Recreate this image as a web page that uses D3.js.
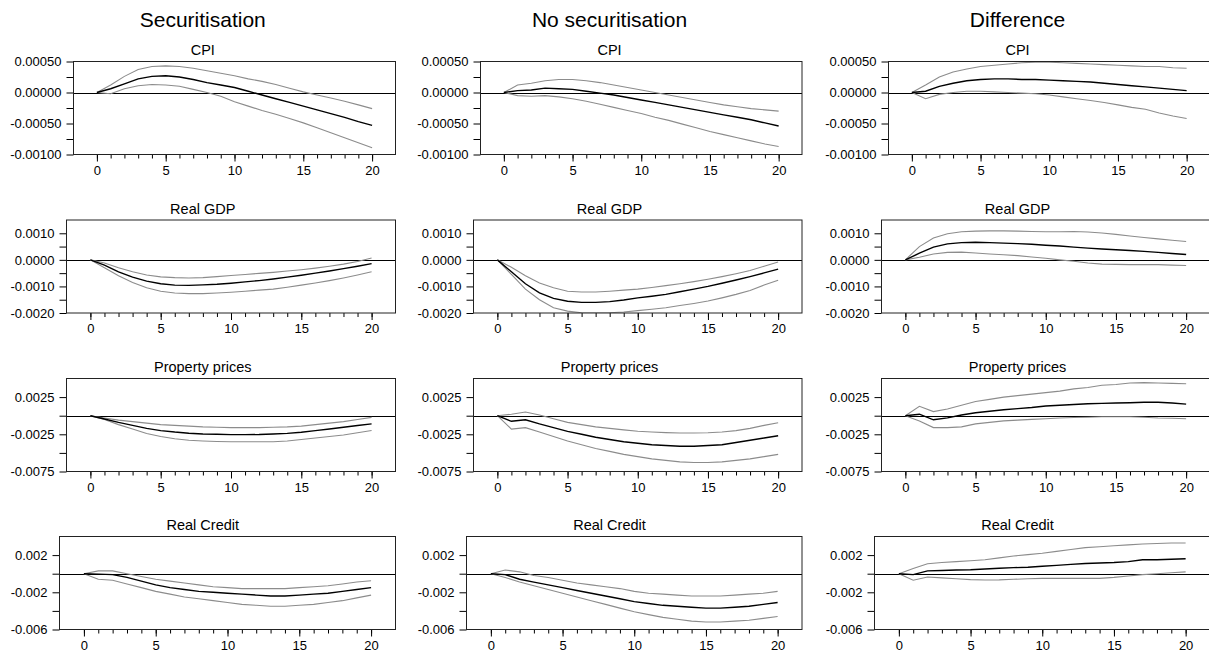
<!DOCTYPE html>
<html>
<head>
<meta charset="utf-8">
<script src="https://cdn.jsdelivr.net/npm/d3@7"></script>
<style>
  body { margin: 0; background: #fff; }
  text { font-family: Arial, "Liberation Sans", sans-serif; fill: #000; }
</style>
</head>
<body>
<script>
// horizon (quarters after the shock)
const steps = d3.range(0, 21);
const majorSteps = [0, 5, 10, 15, 20];

const columnTitles = ["Securitisation", "No securitisation", "Difference"];
const variableTitles = ["CPI", "Real GDP", "Property prices", "Real Credit"];

// CPI
const cpiSecMid = [0, 0.00006, 0.00014, 0.00022, 0.00026, 0.00027, 0.00025, 0.00021, 0.00016, 0.00012, 0.00008, 0.00002, -0.00004, -0.0001, -0.00016, -0.00022, -0.00028, -0.00034, -0.0004, -0.00047, -0.00053];
const cpiSecHi = [0, 0.00012, 0.00026, 0.00037, 0.00042, 0.00043, 0.00042, 0.00039, 0.00035, 0.00031, 0.00027, 0.00022, 0.00018, 0.00013, 0.00007, 0.00001, -0.00004, -0.00009, -0.00014, -0.0002, -0.00026];
const cpiSecLo = [0, -0.00002, 0.00006, 0.00011, 0.00013, 0.00012, 0.0001, 0.00005, 0, -0.00006, -0.00015, -0.00022, -0.00029, -0.00035, -0.00042, -0.00049, -0.00057, -0.00065, -0.00073, -0.00081, -0.00089];
const cpiNoMid = [0, 0.00003, 0.00004, 0.00007, 0.00006, 0.00005, 0.00002, -0.00001, -0.00004, -0.00008, -0.00012, -0.00016, -0.0002, -0.00024, -0.00028, -0.00032, -0.00036, -0.0004, -0.00044, -0.00049, -0.00054];
const cpiNoHi = [0, 0.00012, 0.00015, 0.00019, 0.00021, 0.00021, 0.00019, 0.00016, 0.00012, 0.00008, 0.00004, 0, -0.00004, -0.00008, -0.00012, -0.00016, -0.0002, -0.00023, -0.00026, -0.00028, -0.0003];
const cpiNoLo = [0, -0.00005, -0.00006, -0.00005, -0.00007, -0.0001, -0.00014, -0.00019, -0.00024, -0.00029, -0.00034, -0.0004, -0.00045, -0.00051, -0.00057, -0.00063, -0.00068, -0.00073, -0.00078, -0.00083, -0.00087];
const cpiDiffMid = [0, 0.00002, 0.0001, 0.00015, 0.00019, 0.00021, 0.00022, 0.00022, 0.00021, 0.00021, 0.0002, 0.00019, 0.00018, 0.00017, 0.00015, 0.00013, 0.00011, 0.00009, 0.00007, 0.00005, 0.00003];
const cpiDiffHi = [0, 0.00012, 0.00025, 0.00033, 0.00038, 0.00042, 0.00044, 0.00046, 0.00048, 0.00049, 0.00049, 0.00048, 0.00047, 0.00046, 0.00045, 0.00044, 0.00043, 0.00042, 0.00042, 0.0004, 0.00039];
const cpiDiffLo = [0, -0.0001, -0.00003, 0, 0.00002, 0.00002, 0.00001, 0, -0.00001, -0.00002, -0.00004, -0.00007, -0.0001, -0.00013, -0.00016, -0.0002, -0.00024, -0.00027, -0.00033, -0.00038, -0.00042];

// Real GDP
const gdpSecMid = [0, -0.0002, -0.00045, -0.00065, -0.0008, -0.0009, -0.00095, -0.00096, -0.00094, -0.00092, -0.00088, -0.00083, -0.00078, -0.00072, -0.00065, -0.00058, -0.0005, -0.00042, -0.00033, -0.00024, -0.00014];
const gdpSecHi = [0, -0.00012, -0.0003, -0.00045, -0.00057, -0.00064, -0.00067, -0.00068, -0.00067, -0.00063, -0.00059, -0.00055, -0.00051, -0.00047, -0.00042, -0.00037, -0.00031, -0.00024, -0.00016, -0.00006, 0.00007];
const gdpSecLo = [0, -0.0003, -0.0006, -0.00085, -0.00105, -0.00118, -0.00125, -0.00127, -0.00127, -0.00125, -0.00122, -0.00118, -0.00114, -0.0011, -0.00103, -0.00095, -0.00087, -0.00078, -0.00068, -0.00057, -0.00045];
const gdpNoMid = [0, -0.00045, -0.0009, -0.00124, -0.00145, -0.00156, -0.0016, -0.0016, -0.00157, -0.00151, -0.00143, -0.00137, -0.0013, -0.0012, -0.0011, -0.001, -0.00088, -0.00076, -0.00063, -0.00049, -0.00035];
const gdpNoHi = [0, -0.00028, -0.0006, -0.00087, -0.00105, -0.00118, -0.00121, -0.00121, -0.00118, -0.00114, -0.0011, -0.00104, -0.00097, -0.0009, -0.00082, -0.00073, -0.00063, -0.00052, -0.0004, -0.00024, -0.00008];
const gdpNoLo = [0, -0.00055, -0.0011, -0.0015, -0.0018, -0.00193, -0.00199, -0.002, -0.00199, -0.00196, -0.00191, -0.00186, -0.0018, -0.00172, -0.00164, -0.00155, -0.00143, -0.0013, -0.00115, -0.00095, -0.00077];
const gdpDiffMid = [0, 0.00025, 0.00048, 0.0006, 0.00065, 0.00066, 0.00065, 0.00063, 0.00061, 0.00059, 0.00055, 0.00052, 0.00048, 0.00044, 0.00041, 0.00038, 0.00035, 0.00032, 0.00028, 0.00024, 0.0002];
const gdpDiffHi = [0, 0.0005, 0.00082, 0.00098, 0.00106, 0.00108, 0.00109, 0.00109, 0.00108, 0.00107, 0.00106, 0.00106, 0.00107, 0.00105, 0.00101, 0.00096, 0.0009, 0.00084, 0.00079, 0.00074, 0.00069];
const gdpDiffLo = [0, 0.0001, 0.00022, 0.00028, 0.00029, 0.00026, 0.00022, 0.00019, 0.00016, 0.00011, 0.00006, 0, -0.00005, -0.00012, -0.00016, -0.00017, -0.00018, -0.00018, -0.00018, -0.0002, -0.00021];

// Property prices
const propSecMid = [0, -0.00045, -0.0009, -0.0013, -0.0017, -0.002, -0.0022, -0.00235, -0.00245, -0.0025, -0.00254, -0.00255, -0.00253, -0.00245, -0.00237, -0.00223, -0.002, -0.00178, -0.00155, -0.00132, -0.0011];
const propSecHi = [0, -0.0003, -0.0006, -0.0008, -0.001, -0.0012, -0.0013, -0.0014, -0.0015, -0.00155, -0.0016, -0.0016, -0.0016, -0.00155, -0.0015, -0.0014, -0.0012, -0.001, -0.0008, -0.0005, -0.00023];
const propSecLo = [0, -0.0005, -0.0012, -0.0018, -0.0024, -0.0028, -0.0031, -0.0033, -0.0034, -0.00347, -0.0035, -0.0035, -0.0035, -0.0035, -0.0034, -0.0032, -0.003, -0.0028, -0.0026, -0.0023, -0.002];
const propNoMid = [0, -0.00075, -0.00055, -0.0011, -0.0016, -0.0021, -0.0025, -0.0029, -0.0032, -0.0035, -0.0037, -0.0039, -0.004, -0.0041, -0.0041, -0.004, -0.0039, -0.0036, -0.0033, -0.003, -0.0027];
const propNoHi = [0, 0.0002, 0.0005, 0.0001, -0.0004, -0.0009, -0.0012, -0.0015, -0.0017, -0.0019, -0.0021, -0.0022, -0.00228, -0.00232, -0.00233, -0.0023, -0.0022, -0.002, -0.0017, -0.0013, -0.00095];
const propNoLo = [0, -0.0018, -0.0016, -0.0022, -0.0028, -0.0034, -0.0039, -0.0044, -0.0048, -0.0052, -0.0055, -0.0058, -0.006, -0.0062, -0.0063, -0.0063, -0.0062, -0.006, -0.0058, -0.0055, -0.0052];
const propDiffMid = [0, 0.0002, -0.00055, -0.0003, 0.0001, 0.0004, 0.0006, 0.0008, 0.00095, 0.0011, 0.0013, 0.0014, 0.0015, 0.0016, 0.00165, 0.0017, 0.00175, 0.0018, 0.0018, 0.0017, 0.00155];
const propDiffHi = [0, 0.00127, 0.00055, 0.0009, 0.0014, 0.0019, 0.0022, 0.0025, 0.0027, 0.0029, 0.0031, 0.0033, 0.0036, 0.0038, 0.0041, 0.0042, 0.0044, 0.00445, 0.0044, 0.00435, 0.0043];
const propDiffLo = [0, -0.0007, -0.0016, -0.0016, -0.0015, -0.0011, -0.0009, -0.0007, -0.0006, -0.0005, -0.0004, -0.0003, -0.00025, -0.0002, -0.00015, -0.00014, -0.00015, -0.0002, -0.0003, -0.00035, -0.0004];

// Real Credit
const credSecMid = [0, -0.00005, -0.0001, -0.0004, -0.0008, -0.0012, -0.0015, -0.0017, -0.0019, -0.002, -0.0021, -0.0022, -0.0023, -0.0024, -0.0024, -0.0023, -0.0022, -0.0021, -0.0019, -0.0017, -0.0015];
const credSecHi = [0, 0.0003, 0.0003, 0, -0.0003, -0.0006, -0.0008, -0.001, -0.0012, -0.0014, -0.0015, -0.0016, -0.0016, -0.0016, -0.0016, -0.0015, -0.0014, -0.0013, -0.0011, -0.0009, -0.00075];
const credSecLo = [0, -0.0006, -0.0007, -0.0011, -0.0015, -0.0019, -0.0022, -0.0025, -0.0027, -0.0029, -0.0031, -0.0033, -0.0034, -0.0035, -0.0035, -0.0034, -0.0033, -0.0031, -0.0029, -0.0026, -0.0023];
const credNoMid = [0, -0.0001, -0.0006, -0.0009, -0.0012, -0.0015, -0.0018, -0.0021, -0.0024, -0.0027, -0.003, -0.0032, -0.0034, -0.0035, -0.0036, -0.0037, -0.0037, -0.0036, -0.0035, -0.0033, -0.0031];
const credNoHi = [0, 0.0004, 0.0002, -0.0002, -0.0004, -0.0007, -0.001, -0.0012, -0.0014, -0.0016, -0.0019, -0.0021, -0.0022, -0.0023, -0.0024, -0.0024, -0.0024, -0.0023, -0.0022, -0.0021, -0.0019];
const credNoLo = [0, -0.0004, -0.0009, -0.0013, -0.0017, -0.0021, -0.0025, -0.0029, -0.0033, -0.0037, -0.0041, -0.0044, -0.0047, -0.0049, -0.0051, -0.0052, -0.0052, -0.0051, -0.005, -0.0048, -0.0046];
const credDiffMid = [0, -0.0001, 0.0003, 0.00035, 0.0004, 0.00043, 0.0005, 0.00058, 0.00065, 0.0007, 0.0008, 0.0009, 0.001, 0.0011, 0.00115, 0.0012, 0.0013, 0.0015, 0.0015, 0.00155, 0.0016];
const credDiffHi = [0, 0.00055, 0.00107, 0.0012, 0.0013, 0.0014, 0.0015, 0.0017, 0.0019, 0.00205, 0.0022, 0.0024, 0.0026, 0.0028, 0.0029, 0.003, 0.0031, 0.0032, 0.00325, 0.0033, 0.0033];
const credDiffLo = [0, -0.0007, -0.00036, -0.00045, -0.00055, -0.00064, -0.00068, -0.00066, -0.0006, -0.00055, -0.0005, -0.0005, -0.0005, -0.0005, -0.0005, -0.0004, -0.00025, -0.0001, 0, 0.0001, 0.0002];

// y axes: domains, tick positions and labelled ticks
const cpiDomain = [-0.001, 0.0005];
const cpiTicks = [-0.001, -0.00075, -0.0005, -0.00025, 0, 0.00025, 0.0005];
const cpiLabelValues = [-0.001, -0.0005, 0, 0.0005];
const cpiLabels = ["-0.00100", "-0.00050", "0.00000", "0.00050"];

const gdpDomain = [-0.002, 0.0015];
const gdpTicks = [-0.002, -0.0015, -0.001, -0.0005, 0, 0.0005, 0.001];
const gdpLabelValues = [-0.002, -0.001, 0, 0.001];
const gdpLabels = ["-0.0020", "-0.0010", "0.0000", "0.0010"];

const propDomain = [-0.0075, 0.005];
const propTicks = [-0.0075, -0.005, -0.0025, 0, 0.0025];
const propLabelValues = [-0.0075, -0.0025, 0.0025];
const propLabels = ["-0.0075", "-0.0025", "0.0025"];

const credDomain = [-0.006, 0.004];
const credTicks = [-0.006, -0.004, -0.002, 0, 0.002];
const credLabelValues = [-0.006, -0.002, 0.002];
const credLabels = ["-0.006", "-0.002", "0.002"];

const rows = [
  { domain: cpiDomain, ticks: cpiTicks, labelValues: cpiLabelValues, labels: cpiLabels,
    series: [[cpiSecMid, cpiSecHi, cpiSecLo], [cpiNoMid, cpiNoHi, cpiNoLo], [cpiDiffMid, cpiDiffHi, cpiDiffLo]] },
  { domain: gdpDomain, ticks: gdpTicks, labelValues: gdpLabelValues, labels: gdpLabels,
    series: [[gdpSecMid, gdpSecHi, gdpSecLo], [gdpNoMid, gdpNoHi, gdpNoLo], [gdpDiffMid, gdpDiffHi, gdpDiffLo]] },
  { domain: propDomain, ticks: propTicks, labelValues: propLabelValues, labels: propLabels,
    series: [[propSecMid, propSecHi, propSecLo], [propNoMid, propNoHi, propNoLo], [propDiffMid, propDiffHi, propDiffLo]] },
  { domain: credDomain, ticks: credTicks, labelValues: credLabelValues, labels: credLabels,
    series: [[credSecMid, credSecHi, credSecLo], [credNoMid, credNoHi, credNoLo], [credDiffMid, credDiffHi, credDiffLo]] }
];

// layout
const width = 1209, height = 652;
const colLeft = [10, 417, 825], colRight = [395.5, 802, 1210];
const rowTop = [61.5, 220, 378.5, 536.5], frameH = 93;
const tickFont = 13, font = 'Arial, "Liberation Sans", sans-serif';

const svg = d3.select("body")
  .append("svg")
  .attr("width", width)
  .attr("height", height);

function textWidth(str) {
  const t = svg.append("text").style("font-size", tickFont + "px").text(str);
  const w = t.node().getComputedTextLength();
  t.remove();
  return w;
}

// column headings
columnTitles.forEach(function (t, c) {
  svg.append("text")
    .attr("x", (colLeft[c] + colRight[c]) / 2)
    .attr("y", 27)
    .attr("text-anchor", "middle")
    .style("font-size", "21px")
    .text(t);
});

rows.forEach(function (row, r) {
  const top = rowTop[r], bottom = top + frameH;
  const labelMap = new Map(row.labelValues.map((v, i) => [v, row.labels[i]]));
  const maxW = d3.max(row.labels, textWidth);

  for (let c = 0; c < 3; c++) {
    const left = Math.round(colLeft[c] + maxW + 12) + 0.5;
    const right = colRight[c];

    const x = d3.scaleLinear().domain([-1.7, 21.7]).range([left, right]);
    const y = d3.scaleLinear().domain(row.domain).range([bottom, top]);

    const g = svg.append("g");

    // panel title
    g.append("text")
      .attr("x", (colLeft[c] + colRight[c]) / 2)
      .attr("y", top - 6.5)
      .attr("text-anchor", "middle")
      .style("font-size", "14.5px")
      .text(variableTitles[r]);

    // y axis
    g.append("g")
      .attr("transform", `translate(${left},0)`)
      .call(d3.axisLeft(y).tickValues(row.ticks).tickSize(7).tickPadding(5)
        .tickFormat(d => labelMap.get(d) || ""))
      .call(a => a.select(".domain").remove())
      .attr("font-size", tickFont).attr("font-family", font);

    // x axis: minor and major ticks
    g.append("g")
      .attr("transform", `translate(0,${bottom})`)
      .call(d3.axisBottom(x).tickValues(steps).tickSize(4).tickFormat(""))
      .call(a => a.select(".domain").remove());
    g.append("g")
      .attr("transform", `translate(0,${bottom})`)
      .call(d3.axisBottom(x).tickValues(majorSteps).tickSize(7).tickPadding(4))
      .call(a => a.select(".domain").remove())
      .attr("font-size", tickFont).attr("font-family", font);

    // clip for the lines
    const clipId = `clip-${r}-${c}`;
    g.append("clipPath").attr("id", clipId)
      .append("rect")
      .attr("x", left).attr("y", top)
      .attr("width", right - left).attr("height", frameH);

    // zero line
    g.append("line")
      .attr("x1", left).attr("x2", right)
      .attr("y1", Math.round(y(0)) + 0.5).attr("y2", Math.round(y(0)) + 0.5)
      .attr("stroke", "#000")
      .attr("stroke-width", 1);

    const line = d3.line()
      .x((d, i) => x(steps[i]))
      .y(d => y(d));

    const [mid, hi, lo] = row.series[c];
    [hi, lo].forEach(function (s) {
      g.append("path")
        .datum(s)
        .attr("clip-path", `url(#${clipId})`)
        .attr("fill", "none")
        .attr("stroke", "#8c8c8c")
        .attr("stroke-width", 1.1)
        .attr("d", line);
    });
    g.append("path")
      .datum(mid)
      .attr("clip-path", `url(#${clipId})`)
      .attr("fill", "none")
      .attr("stroke", "#000")
      .attr("stroke-width", 1.4)
      .attr("d", line);

    // frame
    g.append("rect")
      .attr("x", left).attr("y", top)
      .attr("width", right - left).attr("height", frameH)
      .attr("fill", "none")
      .attr("stroke", "#222")
      .attr("stroke-width", 1);
  }
});
</script>
</body>
</html>
